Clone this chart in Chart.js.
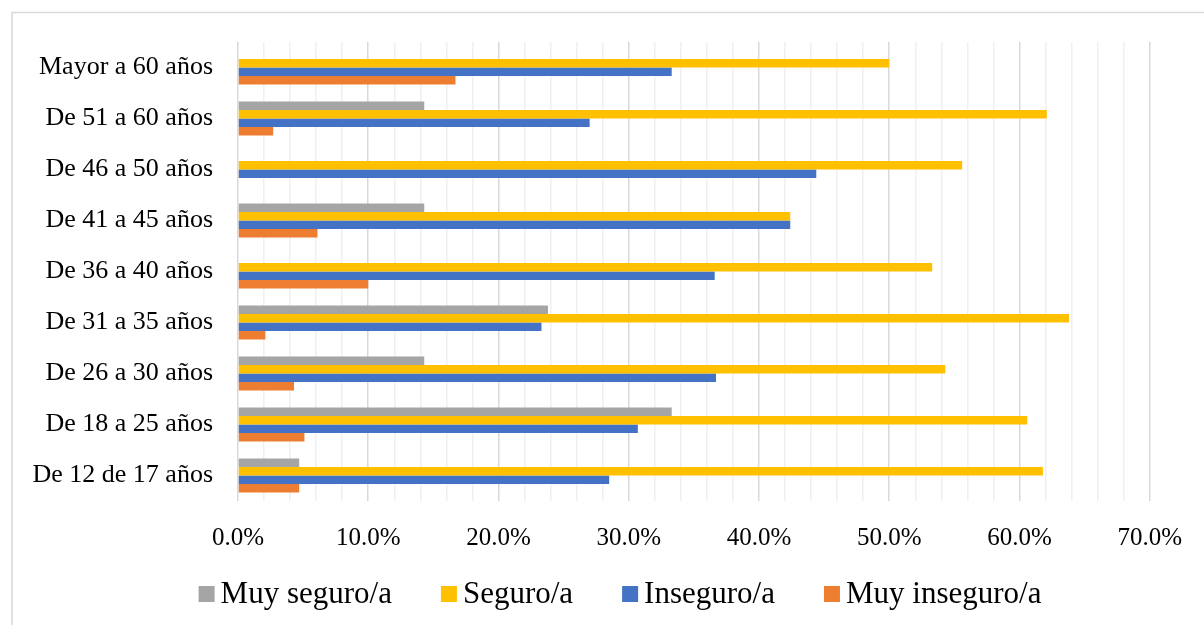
<!DOCTYPE html>
<html>
<head>
<meta charset="utf-8">
<script src="https://cdn.jsdelivr.net/npm/chart.js@4.4.1/dist/chart.umd.min.js"></script>
<style>
  html, body { margin: 0; padding: 0; background: #ffffff; }
  #wrap { width: 1204px; height: 625px; position: relative; }
</style>
</head>
<body>
<div id="wrap"><canvas id="c" width="1204" height="625"></canvas></div>
<script>
const categories = ['Mayor a 60 años','De 51 a 60 años','De 46 a 50 años','De 41 a 45 años','De 36 a 40 años','De 31 a 35 años','De 26 a 30 años','De 18 a 25 años','De 12 de 17 años'];
const seriesNames = ['Muy seguro/a','Seguro/a','Inseguro/a','Muy inseguro/a'];
const muySeguro   = [0, 14.3, 0, 14.3, 0, 23.8, 14.3, 33.3, 4.7];
const seguro      = [50.0, 62.1, 55.6, 42.4, 53.3, 63.8, 54.3, 60.6, 61.8];
const inseguro    = [33.3, 27.0, 44.4, 42.4, 36.6, 23.3, 36.7, 30.7, 28.5];
const muyInseguro = [16.7, 2.7, 0, 6.1, 10.0, 2.1, 4.3, 5.1, 4.7];
const xTickLabels = ['0.0%','10.0%','20.0%','30.0%','40.0%','50.0%','60.0%','70.0%'];
const colors = ['#A5A5A5','#FFC000','#4472C4','#ED7D31'];

const FONT = "'Liberation Serif', 'Times New Roman', serif";

const borderPlugin = {
  id: 'outerBorder',
  beforeDraw(chart) {
    const ctx = chart.ctx;
    ctx.save();
    ctx.fillStyle = '#ffffff';
    ctx.fillRect(0, 0, chart.width, chart.height);
    ctx.strokeStyle = '#d9d9d9';
    ctx.lineWidth = 1.5;
    ctx.strokeRect(12, 12.5, 1300, 700);
    ctx.restore();
  }
};

// Legend drawn from the chart's own datasets (labels + colours)
const bottomLegend = {
  id: 'bottomLegend',
  afterDraw(chart) {
    const ctx = chart.ctx;
    const ds = chart.data.datasets;
    const box = 16, gapBoxText = 6, gapItems = 49;
    ctx.save();
    ctx.font = '31px ' + FONT;
    ctx.textBaseline = 'middle';
    ctx.textAlign = 'left';
    const widths = ds.map(d => ctx.measureText(d.label).width);
    let total = 0;
    widths.forEach((w, i) => { total += box + gapBoxText + w + (i < widths.length - 1 ? gapItems : 0); });
    const centerX = 620, cy = 594;
    let x = centerX - total / 2;
    ds.forEach((d, i) => {
      ctx.fillStyle = d.backgroundColor;
      ctx.fillRect(x, cy - box / 2, box, box);
      x += box + gapBoxText;
      ctx.fillStyle = '#000000';
      ctx.fillText(d.label, x, cy + 1);
      x += widths[i] + gapItems;
    });
    ctx.restore();
  }
};

const values = [muySeguro, seguro, inseguro, muyInseguro];

new Chart(document.getElementById('c'), {
  type: 'bar',
  data: {
    labels: categories,
    datasets: seriesNames.map((n, i) => ({
      label: n,
      data: values[i],
      backgroundColor: colors[i],
      borderWidth: 0,
      barPercentage: 1.0,
      categoryPercentage: 0.67
    }))
  },
  options: {
    indexAxis: 'y',
    responsive: false,
    animation: false,
    devicePixelRatio: 1,
    layout: { padding: { left: 0, right: 52, top: 42, bottom: 50 } },
    plugins: {
      tooltip: { enabled: false },
      legend: { display: false }
    },
    scales: {
      x: {
        min: 0,
        max: 70,
        ticks: {
          stepSize: 2,
          autoSkip: false,
          maxRotation: 0,
          padding: 22,
          color: '#000000',
          font: { family: FONT, size: 25 },
          callback: (v) => (v % 10 === 0 ? xTickLabels[v / 10] : '')
        },
        grid: {
          drawTicks: false,
          lineWidth: 1.5,
          color: (ctx) => (ctx.tick && ctx.tick.value % 10 === 0 ? '#d9d9d9' : '#f0f0f0')
        },
        border: { display: false }
      },
      y: {
        afterFit: (scale) => { scale.width = 238; },
        ticks: {
          padding: 25,
          color: '#000000',
          font: { family: FONT, size: 26 }
        },
        grid: { display: false, drawTicks: false },
        border: { display: false }
      }
    }
  },
  plugins: [borderPlugin, bottomLegend]
});
</script>
</body>
</html>
